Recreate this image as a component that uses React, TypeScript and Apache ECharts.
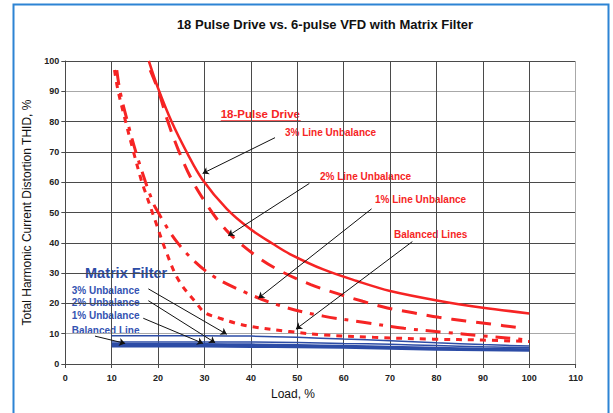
import React, { useEffect, useRef } from "react";
import * as echarts from "echarts";

// ---- Data ----
const xTicks = [0, 10, 20, 30, 40, 50, 60, 70, 80, 90, 100, 110];
const yTicks = [0, 10, 20, 30, 40, 50, 60, 70, 80, 90, 100];

// 18-pulse drive
const pulse3Load = [18, 20, 22.9, 26.3, 29.5, 34.8, 39.8, 44.8, 48.4, 55.6, 62.8, 70, 80.4, 90, 100];
const pulse3Thd = [100, 91, 80, 69.5, 61, 51.2, 44.6, 39.6, 36.3, 31.2, 27.4, 24.1, 20.9, 18.6, 16.7];

const pulse2Load = [18.3, 20.1, 22.1, 24.4, 27.2, 29.9, 32.8, 35.3, 37.6, 42.3, 47, 52.9, 58.5, 64.1, 69.4, 75, 80.5, 86.3, 91.7, 97.1, 99];
const pulse2Thd = [97, 90, 80, 70.5, 61, 54, 47.6, 43.2, 39.9, 34.4, 30.2, 26.2, 23.3, 20.7, 18.5, 16.9, 15.4, 14.2, 13.2, 12.1, 11.8];

const pulse1Load = [11.1, 11.8, 13.4, 15.2, 17.3, 18.6, 19.5, 24.3, 30.8, 38.7, 47, 55.6, 64.2, 73, 81.5, 89.7, 98.1, 100];
const pulse1Thd = [97, 90, 80, 70, 60, 54.5, 51.4, 39.8, 30.1, 23.7, 18.9, 15.8, 13.8, 11.8, 10.5, 9.3, 8.2, 7.6];

const pulseBLoad = [10.6, 11.4, 13.0, 14.7, 16.5, 17.2, 19.7, 21.5, 24.4, 28.3, 30.1, 33.3, 36.9, 40.2, 48.4, 55.6, 66.4, 79.3, 90, 100];
const pulseBThd = [97, 90, 80, 70, 60, 56.9, 45.9, 38, 27.7, 20, 16.9, 15.1, 13.4, 12.3, 10.7, 9.6, 8.8, 8.2, 7.9, 7.4];

// Matrix filter
const matrixLoad = [10, 20, 30, 40, 50, 60, 70, 80, 90, 100];
const matrix3Thd = [9.3, 9.3, 9.3, 9.2, 8.8, 8.25, 7.7, 7.0, 6.4, 5.9];
const matrix2Thd = [7.3, 7.3, 7.3, 7.3, 7.1, 6.8, 6.5, 6.1, 5.7, 5.4];
const matrix1Thd = [6.5, 6.5, 6.5, 6.4, 6.2, 5.9, 5.6, 5.3, 5.0, 4.8];
const matrixBThd = [5.9, 5.9, 5.9, 5.8, 5.7, 5.5, 5.2, 4.9, 4.7, 4.5];

// Annotation arrows (data coords: from label -> to curve)
const redArrows = [
  [[45.2, 74.7], [29.6, 62.9]],
  [[52.6, 59.6], [35.1, 42.3]],
  [[66, 51.2], [41.6, 21.7]],
  [[74.8, 40.4], [49.7, 11.5]],
];
const blueArrows = [
  [[17.9, 24.8], [34.8, 9.8]],
  [[17.9, 20.9], [32.3, 7.0]],
  [[16.8, 15.1], [29.7, 6.8]],
  [[6.4, 9.2], [12.9, 6.8]],
];

const RED = "#f62424";
const BLUE = "#2c4ca6";
const LABEL_BLUE = "#3453b2";
const FONT = "Arial, 'Liberation Sans', sans-serif";

const pairs = (xs: number[], ys: number[]) => xs.map((x, i) => [x, ys[i]]);

export default function App() {
  const ref = useRef<HTMLDivElement>(null);

  useEffect(() => {
    if (!ref.current) return;
    const chart = echarts.init(ref.current, undefined, { renderer: "svg" });
    const dark = "#4a4a4a";
    const light = "#a8a8a8";

    const labelText = (text: string, x: number, y: number, fill: string) => ({
      type: "text",
      left: x,
      top: y - 6,
      style: { text, fill, font: `bold 10px ${FONT}` },
    });

    const lineSeries = (name: string, data: number[][], color: string, width: number, type: any, smooth = 0.35) => ({
      name,
      type: "line",
      data,
      smooth,
      showSymbol: false,
      symbol: "none",
      lineStyle: { color, width, type },
      z: 3,
    });

    chart.setOption({
      animation: false,
      backgroundColor: "#ffffff",
      title: {
        text: "18 Pulse Drive vs. 6-pulse VFD with Matrix Filter",
        left: 320,
        top: 13,
        textAlign: "center",
        textStyle: { fontSize: 13, fontWeight: "bold", color: "#111", fontFamily: FONT },
      },
      grid: { left: 65.3, right: 37.3, top: 61, bottom: 49 },
      xAxis: {
        type: "value",
        min: 0,
        max: 110,
        interval: 10,
        name: "Load, %",
        nameLocation: "middle",
        nameGap: 24,
        nameTextStyle: { fontSize: 12, color: "#111", fontFamily: FONT, padding: [0, 55, 0, 0] },
        axisLine: { show: true, lineStyle: { color: dark, width: 1 } },
        axisTick: { show: true, inside: false, length: 4, lineStyle: { color: dark } },
        axisLabel: {
          margin: 9,
          fontSize: 9,
          fontWeight: "bold",
          color: "#222",
          fontFamily: FONT,
          formatter: (v: number) => (xTicks.includes(v) ? String(v) : ""),
        },
        splitLine: {
          show: true,
          lineStyle: { color: [dark, dark, dark, dark, dark, dark, dark, dark, dark, dark, dark, light], width: 1 },
        },
      },
      yAxis: {
        type: "value",
        min: 0,
        max: 100,
        interval: 10,
        name: "Total Harmonic Current Distortion THID, %",
        nameLocation: "middle",
        nameGap: 32,
        nameTextStyle: { fontSize: 12, color: "#111", fontFamily: FONT },
        axisLine: { show: true, lineStyle: { color: dark, width: 1 } },
        axisTick: { show: true, inside: false, length: 4, lineStyle: { color: dark } },
        axisLabel: {
          margin: 6,
          fontSize: 9,
          fontWeight: "bold",
          color: "#222",
          fontFamily: FONT,
          formatter: (v: number) => (yTicks.includes(v) ? String(v) : ""),
        },
        splitLine: {
          show: true,
          lineStyle: { color: [dark, light, dark, dark, dark, dark, dark, dark, dark, light, dark], width: 1 },
        },
      },
      series: [
        lineSeries("18-Pulse 3% Line Unbalance", pairs(pulse3Load, pulse3Thd), RED, 2.5, "solid"),
        lineSeries("18-Pulse 2% Line Unbalance", pairs(pulse2Load, pulse2Thd), RED, 3, [15, 10]),
        lineSeries("18-Pulse 1% Line Unbalance", pairs(pulse1Load, pulse1Thd), RED, 3, [15, 8, 4, 8]),
        lineSeries("18-Pulse Balanced Lines", pairs(pulseBLoad, pulseBThd), RED, 3, [6, 6]),
        lineSeries("Matrix 3% Unbalance", pairs(matrixLoad, matrix3Thd), BLUE, 1.5, "solid", 0.2),
        lineSeries("Matrix 2% Unbalance", pairs(matrixLoad, matrix2Thd), BLUE, 1.5, "solid", 0.2),
        lineSeries("Matrix 1% Unbalance", pairs(matrixLoad, matrix1Thd), BLUE, 2.5, "solid", 0.2),
        lineSeries("Matrix Balanced Line", pairs(matrixLoad, matrixBThd), BLUE, 3, "solid", 0.2),
        {
          name: "arrows",
          type: "lines",
          coordinateSystem: "cartesian2d",
          symbol: ["none", "arrow"],
          symbolSize: 6,
          silent: true,
          lineStyle: { color: "#111", width: 1, opacity: 1 },
          data: [...redArrows, ...blueArrows].map((c) => ({ coords: c })),
          z: 5,
        },
      ],
      graphic: [
        {
          type: "rect",
          shape: { x: 13.5, y: 4.5, width: 595, height: 430 },
          style: { fill: "none", stroke: "#2d84d4", lineWidth: 2 },
          silent: true,
          z: 10,
        },
        {
          type: "text",
          left: 220.7,
          top: 108,
          style: { text: "18-Pulse Drive", fill: RED, font: `bold 11.5px ${FONT}` },
        },
        {
          type: "line",
          shape: { x1: 220.7, y1: 120.8, x2: 300.7, y2: 120.8 },
          style: { stroke: RED, lineWidth: 1.2 },
        },
        labelText("3% Line Unbalance", 285, 133.3, RED),
        labelText("2% Line Unbalance", 320, 177.7, RED),
        labelText("1% Line Unbalance", 375, 200.3, RED),
        labelText("Balanced Lines", 394, 235, RED),
        {
          type: "text",
          left: 85,
          top: 265,
          style: { text: "Matrix Filter", fill: BLUE, font: `bold 14.5px ${FONT}` },
        },
        labelText("3% Unbalance", 71.7, 291, LABEL_BLUE),
        labelText("2% Unbalance", 71.7, 303.3, LABEL_BLUE),
        labelText("1% Unbalance", 71.7, 316, LABEL_BLUE),
        labelText("Balanced Line", 71.7, 331.7, LABEL_BLUE),
      ],
    });

    return () => chart.dispose();
  }, []);

  return (
    <div
      ref={ref}
      style={{ position: "absolute", left: 0, top: 0, width: 613, height: 413, background: "#fff" }}
    />
  );
}
